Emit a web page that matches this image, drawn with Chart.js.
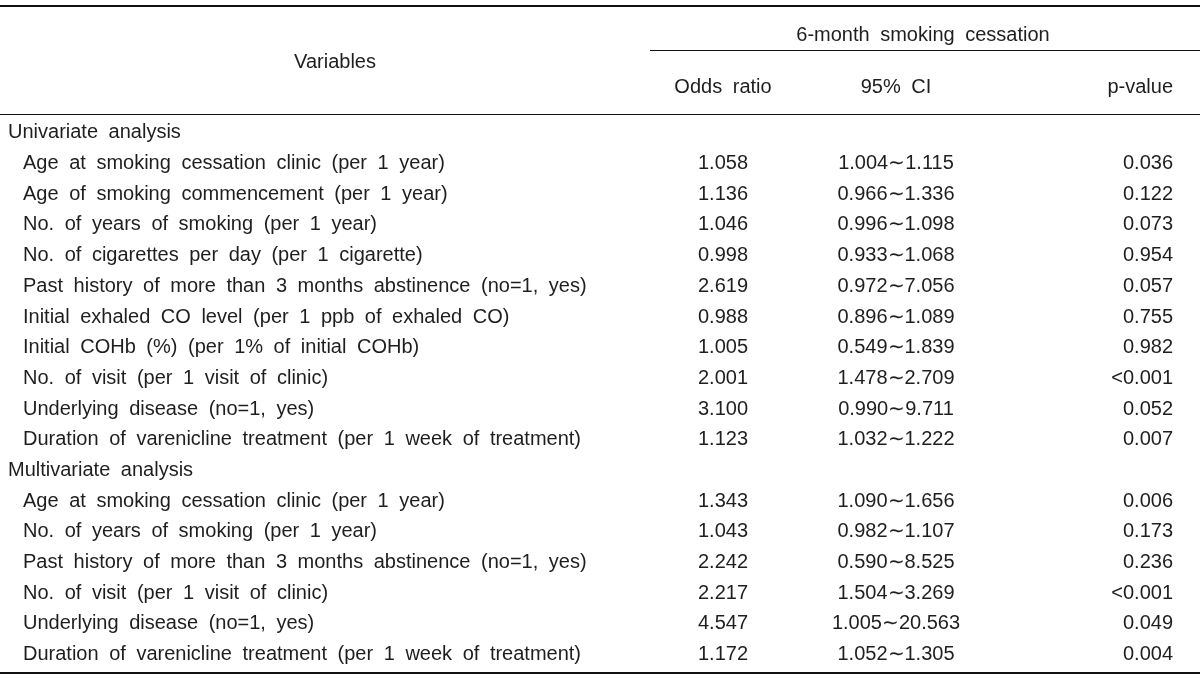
<!DOCTYPE html>
<html>
<head>
<meta charset="utf-8">
<script src="https://cdn.jsdelivr.net/npm/chart.js@4"></script>
<style>
  html, body { margin: 0; padding: 0; background: #fff; }
  #wrap { width: 1200px; height: 678px; }
</style>
</head>
<body>
<div id="wrap"><canvas id="table-chart" width="1200" height="678"></canvas></div>
<script>
// Table data
const groupTitle = '6-month smoking cessation';
const headerLabels = ['Variables', 'Odds ratio', '95% CI', 'p-value'];
const sectionTitles = ['Univariate analysis', 'Multivariate analysis'];

const uniVariables = [
    'Age at smoking cessation clinic (per 1 year)',
    'Age of smoking commencement (per 1 year)',
    'No. of years of smoking (per 1 year)',
    'No. of cigarettes per day (per 1 cigarette)',
    'Past history of more than 3 months abstinence (no=1, yes)',
    'Initial exhaled CO level (per 1 ppb of exhaled CO)',
    'Initial COHb (%) (per 1% of initial COHb)',
    'No. of visit (per 1 visit of clinic)',
    'Underlying disease (no=1, yes)',
    'Duration of varenicline treatment (per 1 week of treatment)'
];
const uniOdds = ['1.058', '1.136', '1.046', '0.998', '2.619', '0.988', '1.005', '2.001', '3.100', '1.123'];
const uniCiLow = ['1.004', '0.966', '0.996', '0.933', '0.972', '0.896', '0.549', '1.478', '0.990', '1.032'];
const uniCiHigh = ['1.115', '1.336', '1.098', '1.068', '7.056', '1.089', '1.839', '2.709', '9.711', '1.222'];
const uniP = ['0.036', '0.122', '0.073', '0.954', '0.057', '0.755', '0.982', '<0.001', '0.052', '0.007'];

const multiVariables = [
    'Age at smoking cessation clinic (per 1 year)',
    'No. of years of smoking (per 1 year)',
    'Past history of more than 3 months abstinence (no=1, yes)',
    'No. of visit (per 1 visit of clinic)',
    'Underlying disease (no=1, yes)',
    'Duration of varenicline treatment (per 1 week of treatment)'
];
const multiOdds = ['1.343', '1.043', '2.242', '2.217', '4.547', '1.172'];
const multiCiLow = ['1.090', '0.982', '0.590', '1.504', '1.005', '1.052'];
const multiCiHigh = ['1.656', '1.107', '8.525', '3.269', '20.563', '1.305'];
const multiP = ['0.006', '0.173', '0.236', '<0.001', '0.049', '0.004'];

// layout (column anchors in x-scale units, header rows in y-scale units)
const col = { section: 8, variable: 23, odds: 723, ci: 896, p: 1173 };
const headRow = { group: -3.19, sub: -1.47, variables: -2.31 };
const rules = [
    { y: -4.13, from: 0, to: 1200, width: 2 },
    { y: -2.7, from: 650, to: 1200, width: 1 },
    { y: -0.6, from: 0, to: 1200, width: 1 },
    { y: 17.6, from: 0, to: 1200, width: 2 }
];

// build rows from the arrays
const rows = [];
function addSection(title, vars, odds, lo, hi, p) {
    rows.push({ section: title });
    vars.forEach((v, i) => rows.push({ variable: v, odds: odds[i], ci: lo[i] + '\u223C' + hi[i], p: p[i] }));
}
addSection(sectionTitles[0], uniVariables, uniOdds, uniCiLow, uniCiHigh, uniP);
addSection(sectionTitles[1], multiVariables, multiOdds, multiCiLow, multiCiHigh, multiP);

function cellDataset(key, align, x) {
    const pts = [], texts = [];
    rows.forEach((r, i) => {
        if (r[key] !== undefined) {
            pts.push({ x: x, y: i });
            texts.push(r[key]);
        }
    });
    return { data: pts, texts: texts, align: align, pointRadius: 0 };
}

const headerDataset = {
    data: [
        { x: 335, y: headRow.variables },
        { x: 923, y: headRow.group },
        { x: col.odds, y: headRow.sub },
        { x: col.ci, y: headRow.sub },
        { x: col.p, y: headRow.sub }
    ],
    texts: [headerLabels[0], groupTitle, headerLabels[1], headerLabels[2], headerLabels[3]],
    aligns: ['center', 'center', 'center', 'center', 'right'],
    pointRadius: 0
};

const FONT = '20px "Liberation Sans", Arial, sans-serif';

const tablePlugin = {
    id: 'tableText',
    afterDatasetsDraw(chart) {
        const ctx = chart.ctx;
        const xs = chart.scales.x, ys = chart.scales.y;
        ctx.save();
        // rules
        ctx.strokeStyle = '#111';
        rules.forEach(r => {
            const y = Math.round(ys.getPixelForValue(r.y)) + (r.width % 2 ? 0.5 : 0);
            ctx.lineWidth = r.width;
            ctx.beginPath();
            ctx.moveTo(xs.getPixelForValue(r.from), y);
            ctx.lineTo(xs.getPixelForValue(r.to), y);
            ctx.stroke();
        });
        // cell texts
        ctx.fillStyle = '#1e1e1e';
        ctx.font = FONT;
        ctx.textBaseline = 'middle';
        if ('wordSpacing' in ctx) ctx.wordSpacing = '5px';
        chart.data.datasets.forEach((ds, di) => {
            const meta = chart.getDatasetMeta(di);
            meta.data.forEach((el, j) => {
                ctx.textAlign = ds.aligns ? ds.aligns[j] : ds.align;
                ctx.fillText(ds.texts[j], el.x, el.y);
            });
        });
        ctx.restore();
    }
};

new Chart(document.getElementById('table-chart'), {
    type: 'scatter',
    data: {
        datasets: [
            headerDataset,
            cellDataset('section', 'left', col.section),
            cellDataset('variable', 'left', col.variable),
            cellDataset('odds', 'center', col.odds),
            cellDataset('ci', 'center', col.ci),
            cellDataset('p', 'right', col.p)
        ]
    },
    options: {
        responsive: false,
        animation: false,
        layout: { padding: 0 },
        plugins: { legend: { display: false }, tooltip: { enabled: false } },
        scales: {
            x: { type: 'linear', display: false, min: 0, max: 1200 },
            y: { type: 'linear', display: false, reverse: true, min: -4.33, max: 17.76 }
        }
    },
    plugins: [tablePlugin]
});
</script>
</body>
</html>
